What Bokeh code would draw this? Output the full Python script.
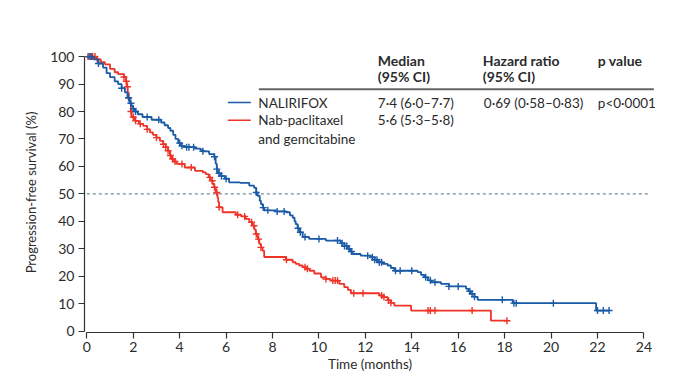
import numpy as np
from bokeh.plotting import figure
from bokeh.models import FixedTicker, Label, Range1d
from bokeh.embed import file_html
from bokeh.resources import INLINE

FONT = "Lato"

# ---- data: Kaplan-Meier step curves (time in months, survival %) ----
nalirifox_t = [0, 0.3, 0.5, 0.7, 0.85, 1.0, 1.2, 1.35, 1.5, 1.64, 1.75, 1.85, 1.93, 2.0, 2.07, 2.2,
               2.4, 2.79, 3.2, 3.35, 3.5, 3.6, 3.72, 3.82, 3.94, 4.05, 4.22, 4.66, 4.9, 5.0, 5.27,
               5.49, 5.55, 5.6, 5.65, 5.78, 5.95, 6.13, 6.6, 7.0, 7.21, 7.3, 7.36, 7.45, 7.5, 7.58,
               7.64, 8.15, 8.58, 8.75, 8.87, 8.95, 9.0, 9.08, 9.15, 9.3, 9.58, 10.3, 10.95, 11.1,
               11.24, 11.35, 11.45, 11.8, 12.24, 12.4, 12.53, 12.75, 12.96, 13.1, 13.25, 14.25,
               14.4, 14.54, 14.7, 14.83, 15.26, 15.6, 16.34, 16.45, 16.55, 16.7, 16.84, 18.35, 21.94]
nalirifox_s = [100, 99, 97.5, 96, 94, 92.5, 91, 90, 88.5, 87, 85, 83, 82, 81, 80, 79,
               78, 77, 76, 75, 74, 73, 71.5, 70, 68.5, 67.5, 67, 66.5, 66, 65.5, 64.5,
               63.5, 61, 59, 57.5, 56.5, 55.5, 54.2, 54, 53, 52.2, 50.5, 49.3, 47.5, 46.3, 45,
               44, 43.6, 43.3, 42.2, 41.3, 40, 39, 37.5, 36, 34.3, 33.6, 33, 32, 31,
               30, 29, 28.1, 27.5, 26.9, 26, 25.1, 24.5, 23.9, 23, 22, 21.5,
               20.5, 19.6, 18.5, 17.8, 17.2, 16.3, 15.4, 14.5, 13.6, 12.5, 11.4, 10.2, 7.5]
nalirifox_end = 22.5
nalirifox_censor = [0.1, 0.2, 0.5, 1.5, 1.8, 1.9, 2.0, 2.1, 2.6, 3.1, 4.0, 4.1, 4.3, 4.4, 4.6, 5.0,
                    5.5, 5.6, 5.7, 5.8, 6.0, 7.3, 7.6, 7.8, 8.2, 8.5, 9.1, 9.2, 9.4, 10.0, 10.8,
                    11.0, 11.1, 11.2, 11.3, 11.4, 12.1, 12.3, 12.4, 12.5, 12.6, 12.7, 13.3, 13.5,
                    14.0, 14.6, 14.8, 15.0, 15.6, 16.0, 16.5, 16.6, 16.7, 17.9, 18.4, 18.5, 20.1,
                    22.0, 22.25, 22.5]

nab_t = [0, 0.4, 0.6, 0.78, 1.0, 1.2, 1.35, 1.6, 1.68, 1.72, 1.76, 1.8, 1.85, 1.9, 1.93, 2.07,
         2.25, 2.43, 2.6, 2.72, 2.85, 3.0, 3.15, 3.29, 3.4, 3.5, 3.58, 3.65, 3.75, 3.87, 4.22,
         4.66, 5.0, 5.13, 5.25, 5.34, 5.42, 5.49, 5.56, 5.63, 5.66, 5.7, 5.85, 6.42, 6.65, 6.85,
         7.0, 7.14, 7.22, 7.28, 7.36, 7.43, 7.5, 7.57, 7.64, 8.58, 8.87, 9.0, 9.15, 9.3, 9.44,
         9.6, 9.8, 10.09, 10.3, 10.5, 10.88, 11.09, 11.25, 11.38, 12.6, 12.74, 12.96, 13.1,
         13.25, 13.97, 17.41]
nab_s = [100, 99, 98, 97.2, 95.5, 94.3, 93.6, 92.6, 91, 89, 87, 85, 83, 80, 78, 76.6,
         75.5, 74.8, 73.5, 72.4, 71.5, 70.5, 69.3, 68.1, 67, 65.7, 64, 62.7, 61.8, 60.9, 59.6,
         58.4, 57.8, 57.2, 56, 54.8, 53.6, 52.4, 50.5, 48.7, 47, 45.1, 43.3, 42.4, 41.8, 40.9,
         39.7, 38.4, 37, 35.4, 33.5, 31.8, 30.5, 29.3, 27.0, 26, 25.1, 24.5, 23.9, 23.3, 22.7,
         22, 21, 19.6, 19, 18.4, 17.2, 16, 15, 13.8, 13, 12.4, 11.2, 10.3,
         9.3, 7.5, 3.8]
nab_end = 18.13
nab_censor = [0.05, 0.15, 0.25, 0.35, 0.45, 1.6, 1.7, 1.75, 1.8, 1.9, 2.0, 2.1, 2.3, 2.6, 3.0,
              3.3, 3.4, 3.5, 3.6, 3.7, 3.8, 4.1, 4.5, 5.3, 5.4, 5.5, 5.6, 5.7, 6.5, 6.8, 7.1,
              7.2, 7.3, 7.4, 7.5, 8.6, 9.4, 9.5, 10.3, 10.6, 10.7, 10.8, 11.5, 11.9, 12.7, 12.8,
              13.0, 13.1, 14.7, 14.8, 15.0, 16.6, 18.1]

x_ticks = list(range(0, 25, 2))
y_ticks = list(range(0, 101, 10))
median_line = 50

x_title = "Time (months)"
y_title = "Progression-free survival (%)"
header_cols = ["Median", "Hazard ratio", "p value"]
header_sub = ["(95% CI)", "(95% CI)", ""]
arm_names = ["NALIRIFOX", "Nab-paclitaxel", "and gemcitabine"]
median_txt = ["7·4 (6·0–7·7)", "5·6 (5·3–5·8)"]
hr_txt = "0·69 (0·58–0·83)"
p_txt = "p<0·0001"

BLUE = "#1a5aa6"
RED = "#ee3428"
TXT = "#2b2b2b"

p = figure(width=700, height=377, output_backend="svg", toolbar_location=None,
           x_range=Range1d(-0.1, 24.5), y_range=Range1d(-0.5, 101.5),
           min_border_left=84, min_border_right=45, min_border_top=52, min_border_bottom=45)
p.outline_line_color = None
p.xgrid.visible = False
p.ygrid.visible = False
p.background_fill_color = "white"
p.border_fill_color = "white"

for ax in (p.xaxis[0], p.yaxis[0]):
    ax.axis_line_color = "#333333"
    ax.axis_line_width = 1.2
    ax.major_tick_line_color = "#333333"
    ax.major_tick_line_width = 1.2
    ax.major_tick_out = 6
    ax.major_tick_in = 0
    ax.minor_tick_line_color = None
    ax.major_label_text_font = FONT
    ax.major_label_text_font_size = "14px"
    ax.major_label_text_color = TXT
    ax.axis_label_text_font = FONT
    ax.axis_label_text_font_size = "13.5px"
    ax.axis_label_text_font_style = "normal"
    ax.axis_label_text_color = TXT

p.xaxis.ticker = FixedTicker(ticks=x_ticks)
p.yaxis.ticker = FixedTicker(ticks=y_ticks)
p.xaxis.bounds = (0, 24)
p.yaxis.bounds = (0, 100)
p.xaxis.axis_label = x_title
p.yaxis.axis_label = y_title
p.yaxis.axis_label_text_font_size = "13px"
p.xaxis.major_label_standoff = 3
p.yaxis.major_label_standoff = 4
p.xaxis.axis_label_standoff = 1
p.yaxis.axis_label_standoff = 8

# median reference line
p.segment(x0=[0], y0=[median_line], x1=[24.2], y1=[median_line],
          line_color="#6f8a99", line_width=1.2, line_dash="3 3")


def curve(ts, ss, end, censor, color):
    xs = list(ts) + [end]
    ys = list(ss) + [ss[-1]]
    p.step(xs, ys, mode="after", line_color=color, line_width=1.8)
    ta = np.array(ts)
    sa = np.array(ss)
    c = np.array(censor)
    idx = np.searchsorted(ta, c, side="right") - 1
    p.scatter(c, sa[idx], marker="cross", size=7, line_color=color, line_width=1.4)


curve(nab_t, nab_s, nab_end, nab_censor, RED)
curve(nalirifox_t, nalirifox_s, nalirifox_end, nalirifox_censor, BLUE)


# ---- table / legend ----
def px(xp):
    return (xp - 86) / 23.21


def py(yp):
    return (330.7 - yp) / 2.75


def label(x, y, text, bold=False, color=TXT, size="13.5px", align="left"):
    p.add_layout(Label(x=px(x), y=py(y), text=text, text_font=FONT, text_font_size=size,
                       text_font_style="bold" if bold else "normal", text_color=color,
                       text_baseline="middle", text_align=align))


col_x = [377, 482, 597]
for cx, h, s in zip(col_x, header_cols, header_sub):
    label(cx, 59.5, h, bold=True, size="14px")
    if s:
        label(cx, 75.5, s, bold=True, size="14px")

p.segment(x0=[px(258)], y0=[py(88.3)], x1=[px(653)], y1=[py(88.3)],
          line_color="#666666", line_width=2)

row_y = [101.7, 119.5, 138.7]
p.segment(x0=[px(227), px(227)], y0=[py(row_y[0]), py(row_y[1])],
          x1=[px(250), px(250)], y1=[py(row_y[0]), py(row_y[1])],
          line_color=[BLUE, RED], line_width=1.6)
for yy, nm in zip(row_y, arm_names):
    label(257.5, yy, nm)
for yy, mt in zip(row_y, median_txt):
    label(377, yy, mt)
label(483, row_y[0], hr_txt)
label(597, row_y[0], p_txt)

open("out.html", "w").write(file_html(p, INLINE))
